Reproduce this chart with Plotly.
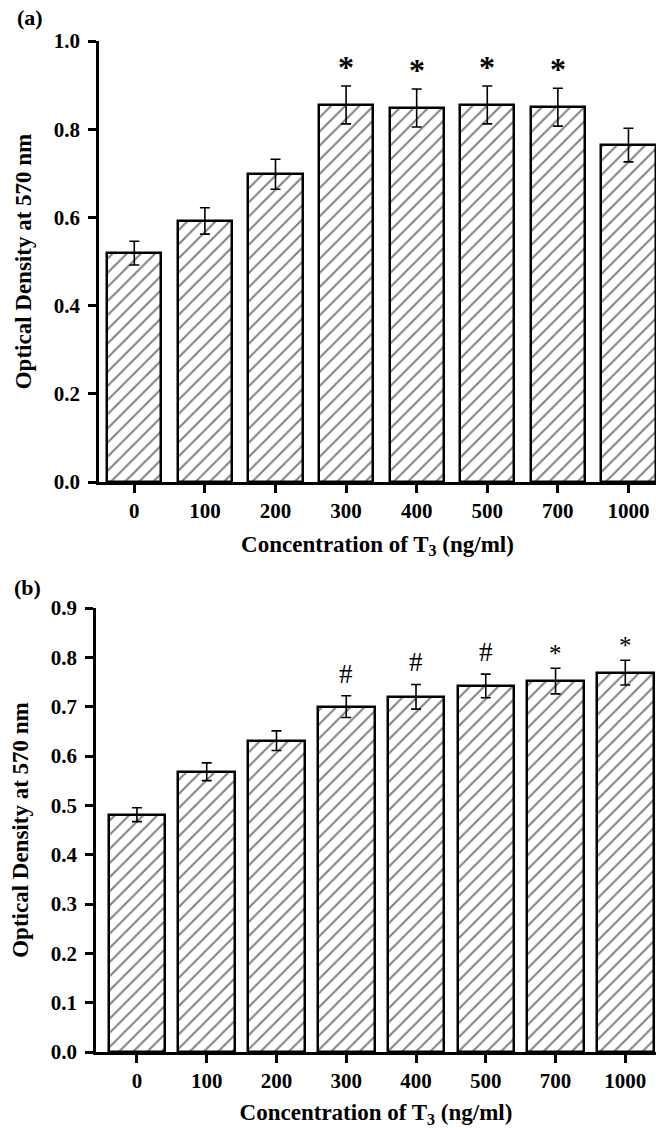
import plotly.graph_objects as go

categories = ["0", "100", "200", "300", "400", "500", "700", "1000"]

means_a = [0.519, 0.592, 0.698, 0.855, 0.848, 0.855, 0.850, 0.764]
errors_a = [0.027, 0.030, 0.034, 0.043, 0.043, 0.043, 0.043, 0.038]
marks_a = ["", "", "", "*", "*", "*", "*", ""]

means_b = [0.481, 0.568, 0.631, 0.700, 0.720, 0.742, 0.752, 0.769]
errors_b = [0.014, 0.018, 0.020, 0.022, 0.025, 0.024, 0.026, 0.025]
marks_b = ["", "", "", "#", "#", "#", "*", "*"]

yticks_a = [0.0, 0.2, 0.4, 0.6, 0.8, 1.0]
yticks_b = [0.0, 0.1, 0.2, 0.3, 0.4, 0.5, 0.6, 0.7, 0.8, 0.9]

W, H = 656, 1128
FONT = "Liberation Serif"
xpos = list(range(len(categories)))


def px_x(v):
    return v / W


def px_y(v):
    return 1 - v / H


def bar_trace(means, errs, width, xa, ya):
    return go.Bar(
        x=xpos, y=means, width=width,
        xaxis=xa, yaxis=ya,
        marker=dict(
            color="white",
            line=dict(color="black", width=2.5),
            pattern=dict(shape="/", fgcolor="black", bgcolor="white",
                         size=10, solidity=0.2, fillmode="overlay"),
        ),
        error_y=dict(type="data", array=errs, visible=True,
                     color="black", thickness=1.6, width=5),
        showlegend=False, hoverinfo="skip",
    )


fig = go.Figure()
fig.add_trace(bar_trace(means_a, errors_a, 0.77, "x", "y"))
fig.add_trace(bar_trace(means_b, errors_b, 0.81, "x2", "y2"))

axis_common = dict(
    showline=True, linecolor="black", linewidth=2.5,
    ticks="outside", ticklen=8, tickwidth=2.5, tickcolor="black",
    showgrid=False, zeroline=False, automargin=False,
    tickfont=dict(family=FONT, size=21, color="black", weight="bold"),
)

xtitle = "Concentration of T<sub>3</sub> (ng/ml)"
ytitle = "Optical Density at 570 nm"
title_font = dict(family=FONT, size=23, color="black", weight="bold")

fig.update_layout(
    width=W, height=H,
    margin=dict(l=0, r=0, t=0, b=0),
    paper_bgcolor="white", plot_bgcolor="white",
    bargap=0,
    xaxis=dict(domain=[px_x(99), 1.0], range=[-0.5, 7.39],
               tickvals=xpos, ticktext=categories, anchor="y",
               title=dict(text=xtitle, font=title_font, standoff=14),
               **axis_common),
    yaxis=dict(domain=[px_y(482), px_y(41)], range=[0, 1.0],
               tickvals=yticks_a, tickformat=".1f", anchor="x",
               ticklabelstandoff=4,
               title=dict(text=ytitle, font=title_font, standoff=16),
               **axis_common),
    xaxis2=dict(domain=[px_x(96), 1.0], range=[-0.587, 7.44],
                tickvals=xpos, ticktext=categories, anchor="y2",
                title=dict(text=xtitle, font=title_font, standoff=14),
                **axis_common),
    yaxis2=dict(domain=[px_y(1052), px_y(608)], range=[0, 0.9],
                tickvals=yticks_b, tickformat=".1f", anchor="x2",
                ticklabelstandoff=4,
                title=dict(text=ytitle, font=title_font, standoff=16),
                **axis_common),
)

annotations = []
for i, (m, e, s) in enumerate(zip(means_a, errors_a, marks_a)):
    if s:
        annotations.append(dict(
            x=i, y=m + e, xref="x", yref="y", text=s, showarrow=False,
            yanchor="bottom", yshift=-1,
            font=dict(family=FONT, size=32, color="black", weight="bold")))
for i, (m, e, s) in enumerate(zip(means_b, errors_b, marks_b)):
    if s:
        big = s == "#"
        annotations.append(dict(
            x=i, y=m + e, xref="x2", yref="y2", text=s, showarrow=False,
            yanchor="bottom", yshift=5 if big else -1,
            font=dict(family=FONT, size=27 if big else 25, color="black")))

annotations.append(dict(x=px_x(30), y=px_y(17), xref="paper", yref="paper",
                        text="(a)", showarrow=False, xanchor="center", yanchor="middle",
                        font=dict(family=FONT, size=22, color="black", weight="bold")))
annotations.append(dict(x=px_x(27), y=px_y(587), xref="paper", yref="paper",
                        text="(b)", showarrow=False, xanchor="center", yanchor="middle",
                        font=dict(family=FONT, size=22, color="black", weight="bold")))

fig.update_layout(annotations=annotations)

fig.write_html("out.html",
               config={"displayModeBar": False},
               post_script="document.body.style.margin='0';document.body.style.padding='0';")
